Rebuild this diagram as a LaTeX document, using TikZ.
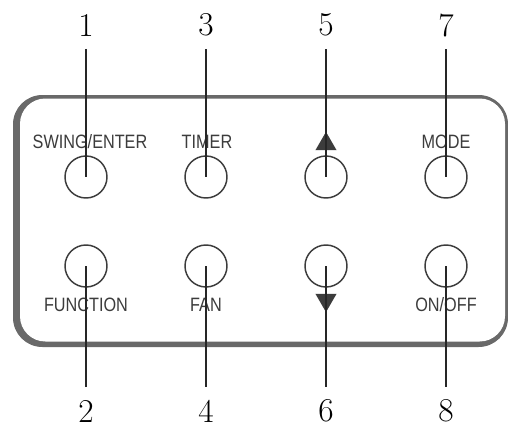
\documentclass[tikz,border=0pt]{standalone}
\usepackage{fontspec}
\usetikzlibrary{shapes.geometric, positioning}
\newfontfamily\keyfont[FakeStretch=0.84]{Liberation Sans}
\definecolor{rim}{RGB}{105, 105, 105}
\definecolor{ink}{RGB}{60, 60, 60}

\begin{document}
\begin{tikzpicture}[x=0.75pt, y=-0.75pt,
            button/.style={draw=ink, line width=1.1pt, circle, minimum size=31.5pt, inner sep=0pt},
            keylabel/.style={anchor=base, text=ink, inner sep=0pt, font=\keyfont\fontsize{14.5}{16}\selectfont},
            num/.style={inner sep=0pt, font=\fontsize{25}{30}\selectfont},
            lead/.style={line width=0.8pt, black!85, shorten <=9.5pt},
            arrowmark/.style={regular polygon, regular polygon sides=3, fill=ink, minimum size=18.2pt, inner sep=0pt}
        ]
            \useasboundingbox (0,0) rectangle (508,429);

            % panel outline
            \fill[rim, rounded corners=22] (13,95) rectangle (508,347);
            \fill[white, rounded corners=19] (20,98.5) rectangle (505,341.5);

            % buttons
            \node[button] (b1) at (86,177) {};
            \node[button] (b3) at (206,177) {};
            \node[button] (b5) at (326,177) {};
            \node[button] (b7) at (446,177) {};
            \node[button] (b2) at (86,266) {};
            \node[button] (b4) at (206,266) {};
            \node[button] (b6) at (326,266) {};
            \node[button] (b8) at (446,266) {};

            % key labels
            \node[keylabel] (swing) at (90,148) {SWING/ENTER};
            \node[keylabel] (timer) at (207,148) {TIMER};
            \node[arrowmark] (up) at (326,144) {};
            \node[keylabel] (mode) at (446,148) {MODE};
            \node[keylabel] (function) at (86,311) {FUNCTION};
            \node[keylabel] (fan) at (206,311) {FAN};
            \node[arrowmark, shape border rotate=180] (down) at (326,300) {};
            \node[keylabel] (onoff) at (446,311) {ON/OFF};

            % numbers
            \node[num] (n1) at (86,25) {1};
            \node[num] (n3) at (206,25) {3};
            \node[num] (n5) at (326,25) {5};
            \node[num] (n7) at (446,25) {7};
            \node[num] (n2) at (86,411) {2};
            \node[num] (n4) at (206,411) {4};
            \node[num] (n6) at (326,411) {6};
            \node[num] (n8) at (446,411) {8};

            \draw[lead] (n1.south) -- (b1.center);
            \draw[lead] (n3.south) -- (b3.center);
            \draw[lead] (n5.south) -- (b5.center);
            \draw[lead] (n7.south) -- (b7.center);
            \draw[lead] (n2.north) -- (b2.center);
            \draw[lead] (n4.north) -- (b4.center);
            \draw[lead] (n6.north) -- (b6.center);
            \draw[lead] (n8.north) -- (b8.center);
        \end{tikzpicture}
\end{document}
